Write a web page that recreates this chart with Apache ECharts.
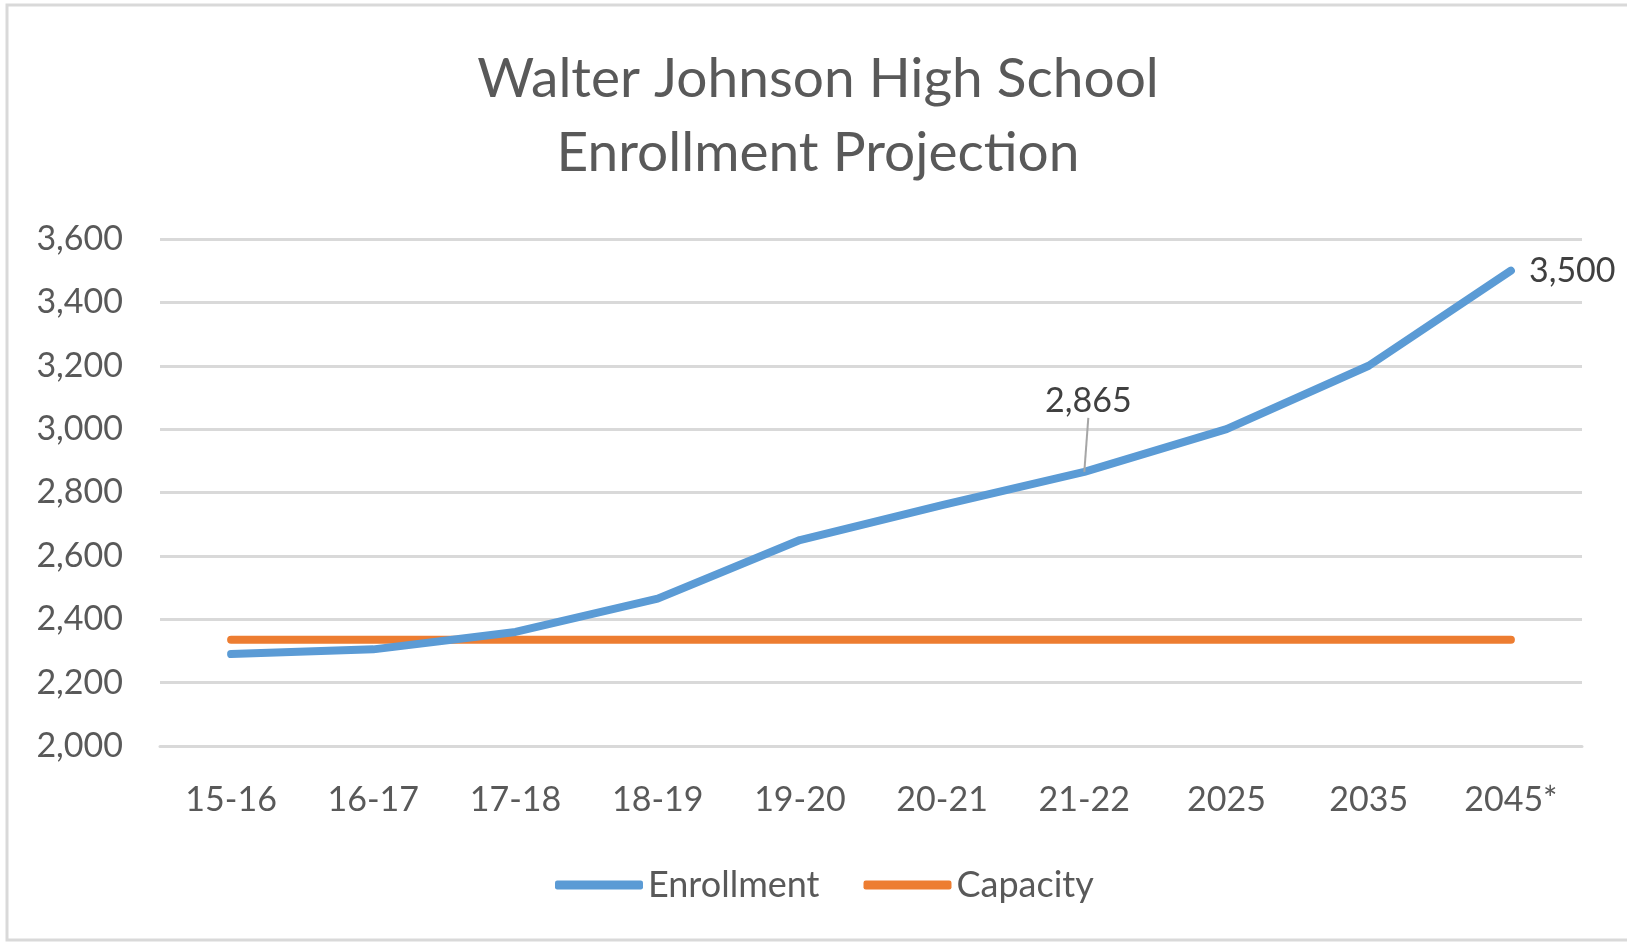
<!DOCTYPE html>
<html>
<head>
<meta charset="utf-8">
<script src="https://cdn.jsdelivr.net/npm/echarts@6/dist/echarts.min.js"></script>
<style>
    html, body { margin: 0; padding: 0; background: #fff; }
    #main { width: 1627px; height: 942px; }
</style>
</head>
<body>
<div id="main"></div>
<script>
var categories = ['15-16', '16-17', '17-18', '18-19', '19-20', '20-21', '21-22', '2025', '2035', '2045*'];
var enrollment = [2290, 2305, 2360, 2465, 2650, 2760, 2865, 3000, 3200, 3500];
var capacity = [2335, 2335, 2335, 2335, 2335, 2335, 2335, 2335, 2335, 2335];

var fontName = 'Lato, "Open Sans", sans-serif';

var myChart = echarts.init(document.getElementById('main'));

// only 21-22 and 2045* carry a value label, like in the original
var enrollmentData = enrollment.map(function (v, i) {
    var item = { value: v };
    if (i === 6) {
        item.label = { show: true, position: 'top', distance: 8 };
        item.labelLine = { show: true, lineStyle: { color: '#a6a6a6', width: 2 } };
    } else if (i === 9) {
        item.label = { show: true, position: 'right', distance: 18 };
    }
    return item;
});

myChart.setOption({
    backgroundColor: '#fff',
    animation: false,
    graphic: [{
        type: 'rect',
        shape: { x: 7, y: 5, width: 1640, height: 935 },
        style: { fill: 'none', stroke: '#d9d9d9', lineWidth: 3 },
        silent: true
    }],
    title: {
        text: 'Walter Johnson High School\nEnrollment Projection',
        left: 813,
        textAlign: 'center',
        top: 37,
        textStyle: {
            fontFamily: fontName,
            fontWeight: 'normal',
            fontSize: 55,
            lineHeight: 74,
            color: '#595959'
        }
    },
    legend: {
        bottom: 34,
        left: 550,
        itemWidth: 88,
        itemHeight: 9,
        itemGap: 44,
        icon: 'roundRect',
        textStyle: { fontFamily: fontName, fontSize: 36, color: '#595959' },
        data: ['Enrollment', 'Capacity']
    },
    grid: { left: 160, right: 45, top: 239, bottom: 196 },
    xAxis: {
        type: 'category',
        data: categories,
        boundaryGap: true,
        axisLine: { show: true, lineStyle: { color: '#d9d9d9', width: 3 } },
        axisTick: { show: false },
        axisLabel: { fontFamily: fontName, fontSize: 34, color: '#595959', margin: 37 }
    },
    yAxis: {
        type: 'value',
        min: 2000,
        max: 3600,
        interval: 200,
        axisLine: { show: false },
        axisTick: { show: false },
        splitLine: { lineStyle: { color: '#d9d9d9', width: 3 } },
        axisLabel: {
            fontFamily: fontName, fontSize: 34, color: '#595959', margin: 37,
            formatter: function (v) { return v.toLocaleString('en-US'); }
        }
    },
    series: [{
        name: 'Enrollment',
        type: 'line',
        data: enrollmentData,
        symbol: 'circle',
        symbolSize: 0.1,
        showSymbol: true,
        color: '#5b9bd5',
        lineStyle: { width: 8, cap: 'round', join: 'round' },
        label: {
            show: false,
            fontFamily: fontName, fontSize: 34, color: '#404040',
            formatter: function (p) { return p.value.toLocaleString('en-US'); }
        },
        labelLayout: function (params) {
            if (params.dataIndex === 6) {
                return { dx: 4, dy: -46 };
            }
        },
        z: 3
    }, {
        name: 'Capacity',
        type: 'line',
        data: capacity,
        symbol: 'none',
        color: '#ed7d31',
        lineStyle: { width: 8, cap: 'round' },
        z: 2
    }]
});
</script>
</body>
</html>
